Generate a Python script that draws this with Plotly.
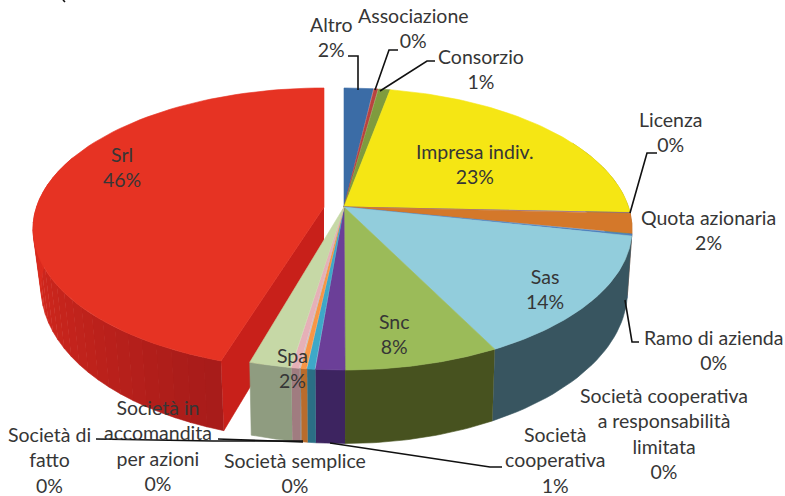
import numpy as np
import plotly.graph_objects as go

# ---------- data ----------
names = ["Altro", "Associazione", "Consorzio", "Impresa indiv.", "Licenza", "Quota azionaria",
         "Ramo di azienda", "Sas", "Snc", "Società<br>cooperativa",
         "Società cooperativa<br>a responsabilità<br>limitata", "Società di<br>fatto",
         "Società in<br>accomandita<br>per azioni", "Società semplice", "Spa", "Srl"]
values = [1.9, 0.3, 0.8, 22.6, 0.1, 2.3, 0.3, 14.2, 7.5, 1.4, 0.4, 0.3, 0.05, 0.4, 2.05, 45.5]
top_colors = ["#3b6ca6", "#b8433f", "#7f9b3e", "#f5e614", "#8064a2", "#d4782a", "#4f81bd", "#92cddc",
              "#9bbb59", "#6b3f98", "#3ea8c8", "#f79646", "#c0c0c0", "#e6b0b7", "#c6d8a6", "#e63323"]
wall_colors = ["#2a4d78", "#7f2e2c", "#586b2b", "#a89e0e", "#594670", "#b56a28", "#37597f", "#385560",
               "#47521f", "#3d2460", "#2b6f85", "#b86c2c", "#888888", "#a07c80", "#8f9c80", "#c8201a"]
label_xy = [(331, 37), (413, 28), (481, 69), (475, 164), (671, 132), (708, 230), (713, 350), (545, 289),
            (394, 334), (555, 460), (664, 433), (49, 460), (158, 445), (295, 473), (292, 368), (122, 167)]
leaders = ["M348,56 L358,56 L358,90", "M398,50 L389,50 L375,90", "M435,61 L427,61 L380,91",
           "M657,153 L647,153 L630,213", "M639,342 L632,342 L625,300", "M330,443 L490,467 L502,467",
           "M218,439 L303,442", "M96,439 L213,441 L303,441", "M63,0 L65,2"]

# ---------- perspective model of the 3-D pie (pixel space of the page) ----------
K = 0.156
MAIN = dict(cx=344, top_y=207, top_a=137.6, top_b=284.5, bot_y=267, bot_a=149, bot_b=280)
SRL = dict(cx=324, top_y=207, top_a=137.6, top_b=287.5, bot_y=264, bot_a=149, bot_b=279.5)
SRL_TURN = np.radians(1.4)  # the exploded slice is drawn with its own slight perspective turn


def rim(theta, p, level):
    u, v = np.sin(theta), np.cos(theta)
    s = 1 + K * v
    return p["cx"] + p[level + "_b"] * u / s, p[level + "_y"] - p[level + "_a"] * v / s


def fill(fig, xs, ys, color):
    fig.add_trace(go.Scatter(x=list(xs), y=list(ys), mode="lines", fill="toself", fillcolor=color,
                             line=dict(color=color, width=0.6), hoverinfo="skip", showlegend=False))


def mix(c1, c2, t):
    a = [int(c1[i:i + 2], 16) for i in (1, 3, 5)]
    b = [int(c2[i:i + 2], 16) for i in (1, 3, 5)]
    return "rgb(%d,%d,%d)" % tuple(a[i] + (b[i] - a[i]) * t for i in range(3))


def wall(fig, t0, t1, p, color):
    th = np.linspace(t0, t1, 30)
    xt, yt = rim(th, p, "top")
    xb, yb = rim(th, p, "bot")
    fill(fig, np.r_[xt, xb[::-1]], np.r_[yt, yb[::-1]], color)


def face(fig, t0, t1, p, color):
    th = np.linspace(t0, t1, 80)
    x, y = rim(th, p, "top")
    fill(fig, np.r_[p["cx"], x, p["cx"]], np.r_[p["top_y"], y, p["top_y"]], color)


total = sum(values)
edges = np.r_[0, np.cumsum(values)] / total * 2 * np.pi
fig = go.Figure()

# exploded Srl slice: radial wall, rim wall (shaded strips), face
i_srl = len(values) - 1
t0, t1 = edges[i_srl] + SRL_TURN, edges[i_srl + 1]
x0t, y0t = rim(np.array([t0]), SRL, "top")
x0b, y0b = rim(np.array([t0]), SRL, "bot")
fill(fig, [SRL["cx"], x0t[0], x0b[0], SRL["cx"]], [SRL["top_y"], y0t[0], y0b[0], SRL["bot_y"]], wall_colors[i_srl])
strips = np.linspace(t0, np.radians(292), 31)
for j in range(30):
    wall(fig, strips[j], strips[j + 1] + 0.002, SRL, mix("#a81c1a", "#e32d1f", min(1, j / 24)))
face(fig, t0, t1, SRL, top_colors[i_srl])

# remaining slices: walls first, faces afterwards
lo, hi = np.radians(60), np.radians(290)
for i in range(len(values) - 1):
    a, b = max(edges[i], lo), min(edges[i + 1], hi)
    if b > a:
        wall(fig, a, b, MAIN, wall_colors[i])
for i in range(len(values) - 1):
    face(fig, edges[i], edges[i + 1], MAIN, top_colors[i])

FONT = dict(family="Lato, Carlito, sans-serif", size=19.5, color="#363636")
for name, val, (lx, ly) in zip(names, values, label_xy):
    fig.add_annotation(x=lx, y=ly, text=f"{name}<br>{round(val)}%", showarrow=False, font=FONT,
                       xanchor="center", yanchor="middle", align="center")
for path in leaders:
    fig.add_shape(type="path", path=path, line=dict(color="#111111", width=1.6))

fig.update_layout(width=785, height=496, margin=dict(l=0, r=0, t=0, b=0), paper_bgcolor="white",
                  plot_bgcolor="white", showlegend=False,
                  xaxis=dict(range=[0, 785], visible=False, fixedrange=True),
                  yaxis=dict(range=[496, 0], visible=False, fixedrange=True))
fig.write_html("out.html", config=dict(displayModeBar=False),
               post_script="document.body.style.margin='0';document.documentElement.style.overflow='hidden';")
